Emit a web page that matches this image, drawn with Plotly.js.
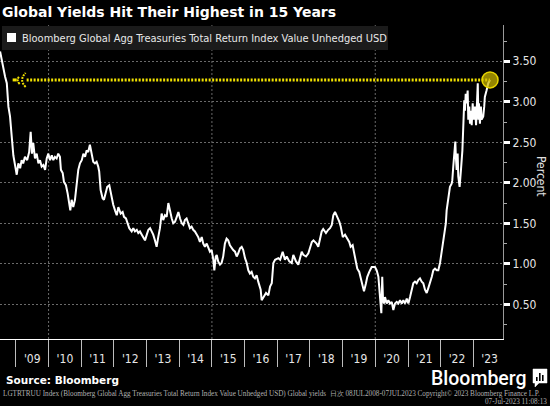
<!DOCTYPE html>
<html><head><meta charset="utf-8">
<script src="https://cdn.plot.ly/plotly-3.0.1.min.js"></script>
<style>html,body{margin:0;padding:0;background:#000;overflow:hidden}#chart{width:550px;height:406px}</style>
</head><body><div id="chart"></div>
<script>
// ---- data ----
const dates2008_2011 = ['2008-07-08','2008-08-13','2008-09-02','2008-09-21','2008-10-09','2008-10-27','2008-11-16','2008-12-03','2008-12-22',
'2009-01-10','2009-01-28','2009-02-17','2009-03-06','2009-03-23','2009-04-12','2009-05-07','2009-05-29','2009-06-15','2009-06-29','2009-07-14','2009-08-02','2009-08-21','2009-09-09','2009-09-27','2009-10-16','2009-11-04','2009-11-23','2009-12-11','2009-12-29',
'2010-01-18','2010-02-06','2010-02-23','2010-03-13','2010-04-01','2010-04-19','2010-05-08','2010-05-19','2010-06-08','2010-06-22','2010-07-14','2010-08-02','2010-08-20','2010-09-01','2010-09-16','2010-10-04','2010-10-23','2010-11-11','2010-11-29','2010-12-18',
'2011-01-07','2011-01-25','2011-02-13','2011-03-02','2011-03-20','2011-04-08','2011-04-27','2011-05-15','2011-06-03','2011-06-22','2011-07-10','2011-07-21','2011-08-06','2011-08-28','2011-09-12','2011-10-04','2011-10-19','2011-11-11','2011-11-26','2011-12-07','2011-12-25'];
const yields2008_2011 = [3.62,3.39,3.31,3.23,2.94,2.82,2.55,2.34,2.22,
2.10,2.24,2.18,2.28,2.24,2.32,2.28,2.38,2.63,2.36,2.49,2.30,2.36,2.24,2.28,2.20,2.22,2.16,2.30,2.36,
2.28,2.34,2.28,2.32,2.30,2.36,2.32,2.16,2.12,2.01,1.97,1.87,1.75,1.66,1.79,1.70,1.79,1.95,2.16,2.24,
2.28,2.36,2.32,2.40,2.38,2.47,2.36,2.26,2.24,2.26,2.20,2.14,1.91,1.81,1.79,1.91,1.95,1.97,1.89,1.79,1.73];

const dates2012_2015 = ['2012-01-14','2012-02-02','2012-02-20','2012-03-17','2012-04-08','2012-04-23','2012-05-15','2012-05-29','2012-06-21','2012-07-18','2012-08-05','2012-08-24','2012-09-13','2012-09-30','2012-10-19','2012-11-08','2012-11-25','2012-12-14',
'2013-01-03','2013-01-21','2013-02-09','2013-02-27','2013-03-16','2013-04-04','2013-04-23','2013-05-11','2013-05-30','2013-06-18','2013-07-06','2013-07-25','2013-08-13','2013-09-01','2013-09-20','2013-10-09','2013-10-26','2013-11-15','2013-12-04','2013-12-22',
'2014-01-10','2014-01-29','2014-02-16','2014-03-05','2014-03-24','2014-04-11','2014-04-30','2014-05-19','2014-06-06','2014-06-25','2014-07-14','2014-08-01','2014-08-20','2014-09-09','2014-09-26','2014-10-15','2014-11-04','2014-11-21','2014-12-10','2014-12-29',
'2015-01-17','2015-01-28','2015-02-13','2015-02-24','2015-03-12','2015-04-01','2015-04-19','2015-05-07','2015-05-26','2015-06-14','2015-07-02','2015-07-21','2015-08-10','2015-08-27','2015-09-16','2015-10-05','2015-10-22','2015-11-11','2015-11-30','2015-12-17'];
const yields2012_2015 = [1.66,1.60,1.70,1.62,1.64,1.58,1.56,1.52,1.44,1.40,1.44,1.40,1.42,1.38,1.40,1.36,1.33,1.29,
1.36,1.42,1.44,1.40,1.36,1.29,1.21,1.33,1.44,1.62,1.54,1.60,1.58,1.75,1.64,1.56,1.50,1.52,1.58,1.64,
1.56,1.50,1.48,1.54,1.56,1.50,1.44,1.46,1.42,1.40,1.36,1.33,1.27,1.33,1.25,1.21,1.25,1.19,1.15,1.17,
1.05,0.92,1.09,1.11,1.03,0.99,1.01,1.09,1.25,1.31,1.29,1.23,1.19,1.17,1.15,1.09,1.13,1.19,1.21,1.17];

const dates2016_2019 = ['2016-01-06','2016-01-25','2016-02-12','2016-03-01','2016-03-20','2016-04-07','2016-04-26','2016-05-15','2016-06-02','2016-06-29','2016-07-10','2016-07-28','2016-08-28','2016-09-23','2016-10-12','2016-10-31','2016-11-18','2016-12-07',
'2017-01-13','2017-02-02','2017-03-02','2017-03-27','2017-04-16','2017-05-15','2017-06-11','2017-06-29','2017-07-29','2017-08-24','2017-09-12','2017-10-01','2017-10-19','2017-11-18','2017-12-14',
'2018-01-03','2018-01-22','2018-02-09','2018-03-16','2018-04-04','2018-04-23','2018-05-12','2018-05-29','2018-06-29','2018-07-24','2018-08-13','2018-09-02','2018-09-19','2018-10-08','2018-11-03','2018-11-25','2018-12-11',
'2019-01-03','2019-01-28','2019-02-23','2019-03-16','2019-04-01','2019-04-23','2019-05-07','2019-05-29','2019-06-14','2019-07-06','2019-07-21','2019-08-13','2019-08-28','2019-09-19','2019-10-04','2019-10-26','2019-11-22','2019-12-18','2019-12-29'];
const yields2016_2019 = [1.07,1.01,0.92,0.88,0.90,0.84,0.82,0.86,0.78,0.68,0.55,0.59,0.64,0.61,0.72,0.76,1.01,1.05,
1.07,1.05,1.15,1.05,1.09,1.03,1.01,1.11,1.03,0.99,1.09,1.15,1.11,1.09,1.13,
1.19,1.27,1.29,1.25,1.21,1.31,1.40,1.43,1.38,1.42,1.44,1.48,1.60,1.64,1.58,1.52,1.46,
1.33,1.36,1.31,1.27,1.21,1.23,1.15,1.03,0.94,0.90,0.84,0.72,0.66,0.76,0.84,0.90,0.96,0.96,0.96];

const dates2020_2023 = ['2020-01-17','2020-02-05','2020-02-23','2020-03-09','2020-03-19','2020-03-28','2020-04-08','2020-04-19','2020-05-08','2020-05-26','2020-06-14','2020-07-03','2020-07-21','2020-08-09','2020-08-28','2020-09-15','2020-10-04','2020-10-23','2020-11-10','2020-11-29','2020-12-18',
'2021-01-05','2021-01-24','2021-02-13','2021-03-01','2021-03-20','2021-04-08','2021-04-26','2021-05-15','2021-06-03','2021-06-21','2021-07-10','2021-07-29','2021-08-16','2021-09-05','2021-09-24','2021-10-11','2021-10-30','2021-11-19','2021-12-06','2021-12-25',
'2022-01-14','2022-02-01','2022-02-20','2022-02-28','2022-03-09','2022-03-27','2022-04-15','2022-05-04','2022-05-11','2022-05-22','2022-05-30','2022-06-14','2022-06-20','2022-06-29','2022-07-10','2022-07-17','2022-08-01','2022-08-08','2022-08-16','2022-09-01','2022-09-11','2022-09-22','2022-09-30','2022-10-08','2022-10-19','2022-10-30','2022-11-06','2022-11-17','2022-11-25','2022-12-06','2022-12-14','2022-12-25',
'2023-01-06','2023-01-20','2023-02-01','2023-02-09','2023-02-20','2023-02-27','2023-03-05','2023-03-16','2023-03-27','2023-04-04','2023-04-22','2023-05-03','2023-05-10','2023-05-29','2023-06-17','2023-07-07'];
const yields2020_2023 = [0.92,0.84,0.59,0.39,0.84,0.55,0.51,0.59,0.51,0.55,0.51,0.53,0.43,0.51,0.53,0.51,0.55,0.51,0.55,0.51,0.57,
0.51,0.59,0.70,0.76,0.78,0.76,0.80,0.82,0.78,0.76,0.68,0.64,0.70,0.76,0.84,0.92,0.94,0.92,0.92,1.01,
1.17,1.33,1.42,1.50,1.66,1.83,1.95,1.99,2.03,2.20,2.36,2.51,2.32,2.16,2.36,2.08,1.95,2.12,2.16,2.40,2.65,3.02,2.89,3.10,2.98,3.14,2.78,2.94,2.73,2.89,2.71,2.98,
2.78,2.94,2.71,3.10,3.23,2.78,2.98,2.73,2.94,2.78,2.82,2.94,3.06,3.14,3.23,3.27];

const gridYears = ['2010-01-01','2015-01-01','2020-01-01'];
const xRange = ['2008-07-07','2023-11-29'];
const yRange = [0.072, 3.948];
const arrowStartDate = '2009-05-01';

const titleText = 'Global Yields Hit Their Highest in 15 Years';
const seriesName = 'Bloomberg Global Agg Treasuries Total Return Index Value Unhedged USD';
const yTitle = 'Percent';
const sourceText = 'Source: Bloomberg';
const brandText = 'Bloomberg';
const footer1 = 'LGTRTRUU Index (Bloomberg Global Agg Treasuries Total Return Index Value Unhedged USD) Global yields &nbsp;日次 08JUL2008-07JUL2023 Copyright© 2023 Bloomberg Finance L.P.';
const footer2 = '07-Jul-2023 11:08:13';

// ---- build ----
const dates = [].concat(dates2008_2011, dates2012_2015, dates2016_2019, dates2020_2023);
const yields = [].concat(yields2008_2011, yields2012_2015, yields2016_2019, yields2020_2023);
const lastDate = dates[dates.length - 1];
const lastYield = yields[yields.length - 1];

const W = 550, H = 406, M = {l: 0, r: 47, t: 25, b: 67};
const PW = W - M.l - M.r, PH = H - M.t - M.b;
const px = x => (x - M.l) / PW;
const py = y => 1 - (y - M.t) / PH;
const NARROW = "'Liberation Sans Narrow', 'Arial Narrow', 'DejaVu Sans Condensed', sans-serif";
const YEL = '#f2e200';

const shapes = [];
gridYears.forEach(d => shapes.push({type: 'line', xref: 'x', yref: 'paper', x0: d, x1: d, y0: 0, y1: 1,
  line: {color: '#6a6a6a', width: 1, dash: '2px,2px'}, layer: 'below'}));
// legend box
shapes.push({type: 'rect', xref: 'paper', yref: 'paper', x0: px(2), x1: px(388), y0: py(50), y1: py(26),
  fillcolor: '#1b1b1b', line: {width: 0}, layer: 'above'});
shapes.push({type: 'rect', xref: 'paper', yref: 'paper', x0: px(7), x1: px(16), y0: py(42), y1: py(33),
  fillcolor: '#ffffff', line: {width: 0}, layer: 'above'});
// yellow dotted level line + arrow tail
shapes.push({type: 'line', xref: 'x', yref: 'y', x0: arrowStartDate, x1: lastDate, y0: lastYield, y1: lastYield,
  line: {color: YEL, width: 3, dash: '2px,1.5px'}, layer: 'above'});
shapes.push({type: 'path', xref: 'x', yref: 'y', xsizemode: 'pixel', ysizemode: 'pixel', xanchor: arrowStartDate, yanchor: lastYield,
  path: 'M -7 -4 Q -11 0 -7 4', line: {color: YEL, width: 2, dash: '2px,1px'}, layer: 'above'});
shapes.push({type: 'path', xref: 'x', yref: 'y', xsizemode: 'pixel', ysizemode: 'pixel', xanchor: arrowStartDate, yanchor: lastYield,
  path: 'M -1 -7 Q -8 0 -1 7', line: {color: YEL, width: 2, dash: '2px,1px'}, layer: 'above'});
shapes.push({type: 'path', xref: 'x', yref: 'y', xsizemode: 'pixel', ysizemode: 'pixel', xanchor: arrowStartDate, yanchor: lastYield,
  path: 'M -14 0 L -10 0', line: {color: YEL, width: 3}, layer: 'above'});
// highlight circle on last value
shapes.push({type: 'circle', xref: 'x', yref: 'y', xsizemode: 'pixel', ysizemode: 'pixel', xanchor: lastDate, yanchor: lastYield,
  x0: -8, x1: 8, y0: -8, y1: 8, fillcolor: 'rgba(205,185,0,0.72)', line: {color: '#e6d400', width: 1.5}, layer: 'above'});
// brand icon (speech-bubble square with bars)
shapes.push({type: 'path', xref: 'paper', yref: 'paper',
  path: 'M ' + px(533) + ' ' + py(369) + ' L ' + px(547) + ' ' + py(369) + ' L ' + px(547) + ' ' + py(383) +
        ' L ' + px(539) + ' ' + py(383) + ' L ' + px(535) + ' ' + py(387) + ' L ' + px(535) + ' ' + py(383) +
        ' L ' + px(533) + ' ' + py(383) + ' Z',
  fillcolor: '#ffffff', line: {color: '#ffffff', width: 0.5}, layer: 'above'});
[[536, 377], [539, 373], [542, 375]].forEach(b => shapes.push({type: 'rect', xref: 'paper', yref: 'paper',
  x0: px(b[0]), x1: px(b[0] + 1.6), y0: py(381), y1: py(b[1]), fillcolor: '#000', line: {width: 0}, layer: 'above'}));

const annotations = [
  {text: seriesName, xref: 'paper', yref: 'paper', x: px(20), y: py(38.5), xanchor: 'left', yanchor: 'middle', showarrow: false,
   font: {family: NARROW, size: 11, color: '#e8e8e8'}},
  {text: yTitle, xref: 'paper', yref: 'paper', x: px(541), y: py(176), xanchor: 'center', yanchor: 'middle', showarrow: false,
   textangle: 90, font: {family: NARROW, size: 12, color: '#e0e0e0'}},
  {text: '<b>' + sourceText + '</b>', xref: 'paper', yref: 'paper', x: px(4), y: py(380), xanchor: 'left', yanchor: 'middle', showarrow: false,
   font: {family: 'DejaVu Sans', size: 10.5, color: '#ffffff'}},
  {text: brandText, xref: 'paper', yref: 'paper', x: px(528), y: py(378), xanchor: 'right', yanchor: 'middle', showarrow: false,
   borderpad: 0, font: {family: 'Roboto', size: 19.5, color: '#ffffff', weight: 500}},
  {text: footer1, xref: 'paper', yref: 'paper', x: px(2), y: py(394), xanchor: 'left', yanchor: 'middle', showarrow: false,
   borderpad: 0, font: {family: 'Liberation Serif', size: 7.2, color: '#b0b0b0'}},
  {text: footer2, xref: 'paper', yref: 'paper', x: px(548), y: py(401.8), xanchor: 'right', yanchor: 'middle', showarrow: false,
   borderpad: 0, font: {family: 'Liberation Serif', size: 7.2, color: '#b0b0b0'}}
];

const trace = {type: 'scatter', mode: 'lines', x: dates, y: yields, name: seriesName,
  line: {color: '#ffffff', width: 2}, hoverinfo: 'skip', showlegend: false};

const layout = {
  width: W, height: H, margin: M, paper_bgcolor: '#000', plot_bgcolor: '#000', showlegend: false,
  title: {text: '<b>' + titleText + '</b>', x: 2 / W, xanchor: 'left', xref: 'container', y: 1 - 12 / H, yanchor: 'middle', yref: 'container',
    font: {family: 'DejaVu Sans', size: 14, color: '#ffffff'}},
  xaxis: {type: 'date', range: xRange, dtick: 'M12', tick0: '2009-01-01', ticklabelmode: 'period', tickformat: "'%y",
    ticks: 'outside', ticklen: 27, tickwidth: 1, tickcolor: '#bdbdbd', showline: true, linecolor: '#ffffff', linewidth: 1,
    showgrid: false, zeroline: false, ticklabelstandoff: -18, tickfont: {family: NARROW, size: 12, color: '#e6e6e6'}, fixedrange: true},
  yaxis: {side: 'right', range: yRange, tick0: 0.5, dtick: 0.5, tickformat: '.2f', ticks: 'outside', ticklen: 6, tickwidth: 3,
    tickcolor: '#ffffff', showline: true, linecolor: '#9a9a9a', linewidth: 1, showgrid: true, gridcolor: '#6a6a6a', griddash: '2px,2px',
    gridwidth: 1, zeroline: false, tickfont: {family: NARROW, size: 12, color: '#e6e6e6'}, fixedrange: true,
    minor: {dtick: 0.25, tick0: 0.25, ticks: 'outside', ticklen: 3, tickwidth: 1, tickcolor: '#aaaaaa', showgrid: false}},
  shapes: shapes, annotations: annotations
};

Plotly.newPlot('chart', [trace], layout, {displayModeBar: false, staticPlot: true});
</script></body></html>
